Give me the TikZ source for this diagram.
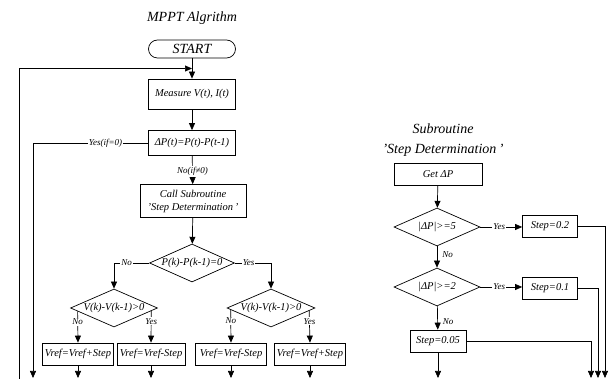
\documentclass[tikz,border=0pt]{standalone}
\usepackage{fontspec}
\setmainfont{Liberation Serif}
\usetikzlibrary{arrows.meta,positioning,shapes.geometric,calc}
\newcommand{\dtext}[1]{\makebox[0pt]{#1}}
\tikzset{
  pbox/.style={draw, font=\fontsize{10.5}{13}\selectfont\itshape, align=center,
               minimum width=#1, minimum height=22pt, inner sep=1pt},
  pbox/.default=87pt,
  pdec/.style={draw, diamond, font=\fontsize{10.5}{13}\selectfont\itshape,
               minimum width=#1, minimum height=38pt, inner sep=0pt},
  pdec/.default=86pt,
  pterm/.style={draw, rounded corners=9pt, font=\fontsize{14}{16}\selectfont\itshape,
                minimum width=87pt, minimum height=18pt, inner sep=1pt},
  ptitle/.style={font=\fontsize{14}{20}\selectfont\itshape, align=center},
  lbl/.style={font=\fontsize{9}{10}\selectfont\itshape, inner sep=1pt},
  lblw/.style={lbl, fill=white},
  arr/.style={-{Triangle[length=7pt,width=6pt]}},
}

\begin{document}
\begin{tikzpicture}[x=1pt, y=-1pt, line width=0.7pt]
\useasboundingbox (0,0) rectangle (614,379);
% Main algorithm
\node[ptitle] (title) at (192,18) {MPPT Algrithm};
\node[pterm] (start) at (192,49) {START};
\node[pbox, minimum height=30pt] (measure) at (192,94) {Measure V(t), I(t)};
\node[pbox, minimum height=25pt] (dp) at (192,143) {ΔP(t)=P(t)-P(t-1)};
\node[pbox=106pt, minimum height=33pt] (callsub) at (193,201) {Call Subroutine\\{'}Step Determination\,{'}};
\node[pdec=85pt] (dpk) at (192,263) {\dtext{P(k)-P(k-1)=0}};
\node[pdec=87pt] (dvl) at (114,308) {\dtext{V(k)-V(k-1)>0}};
\node[pdec=88pt] (dvr) at (271,308) {\dtext{V(k)-V(k-1)>0}};
\node[pbox=71pt] (incl) at (78,354) {Vref=Vref+Step};
\node[pbox=68pt] (decl) at (151,354) {Vref=Vref-Step};
\node[pbox=71pt] (decr) at (231,354) {Vref=Vref-Step};
\node[pbox=71pt] (incr) at (310,354) {Vref=Vref+Step};
% free ends
\coordinate (loopb) at (19,381);
\coordinate (yesb) at (33,378);
\coordinate (bot) at (0,378);
% Connectors
\draw[arr] (start) -- (measure);
\draw[arr] (loopb) |- ($(start.south)!0.5!(measure.north)$);
\draw[arr] (measure) -- (dp);
\draw[arr] (dp.west) -- node[lblw, pos=.37] {Yes(if=0)} (dp.west -| yesb) -- (yesb);
\draw[arr] (dp) -- node[lblw, pos=.55] {No(if≠0)} (callsub);
\draw[arr] (callsub) -- (dpk);
\draw[arr] (dpk.west) -- node[lblw, pos=.64] {No} (dpk.west -| dvl.north) -- (dvl.north);
\draw[arr] (dpk.east) -- node[lblw, pos=.38] {Yes} (dpk.east -| dvr.north) -- (dvr.north);
\draw[arr] ($(dvl.west)!0.17!(dvl.south)$) -- node[lblw, pos=.33] {No} (incl.north);
\draw[arr] ($(dvl.east)!0.15!(dvl.south)$) -- node[lblw, pos=.33] {Yes} (decl.north);
\draw[arr] ($(dvr.west)!0.09!(dvr.south)$) -- node[lblw, pos=.33] {No} (decr.north);
\draw[arr] ($(dvr.east)!0.14!(dvr.south)$) -- node[lblw, pos=.33] {Yes} (incr.north);
\foreach \b in {incl,decl,decr,incr}
  \draw[arr] (\b.south) -- (\b.south |- bot);
% Subroutine
\node[ptitle] (subtitle) at (443,140) {Subroutine\\{'}Step Determination\,{'}};
\node[pbox=88pt] (getdp) at (438,174) {Get ΔP};
\node[pdec] (big) at (437,227) {\dtext{|ΔP|>=5}};
\node[pdec] (mid) at (437,287) {\dtext{|ΔP|>=2}};
\node[pbox=55pt] (s02) at (550,226) {Step=0.2};
\node[pbox=55pt] (s01) at (550,288) {Step=0.1};
\node[pbox=56pt] (s005) at (438,341) {Step=0.05};
\coordinate (r1) at (605,378);
\coordinate (r2) at (598,378);
\coordinate (r3) at (591,378);
\draw[arr] (getdp) -- (big);
\draw[arr] (big) -- node[lbl, pos=.4, anchor=west, xshift=4pt] {No} (mid);
\draw[arr] (mid) -- node[lbl, pos=.65, anchor=west, xshift=4pt] {No} (s005);
\draw[arr] (big.east) -- node[lblw, pos=.45] {Yes} (big.east -| s02.west);
\draw[arr] (mid.east) -- node[lblw, pos=.45] {Yes} (mid.east -| s01.west);
\draw[arr] (s02.east) -| (r1);
\draw[arr] (s01.east) -| (r2);
\draw[arr] (s005.east) -| (r3);
\draw[arr] (s005.south) -- (s005.south |- bot);
\end{tikzpicture}
\end{document}
